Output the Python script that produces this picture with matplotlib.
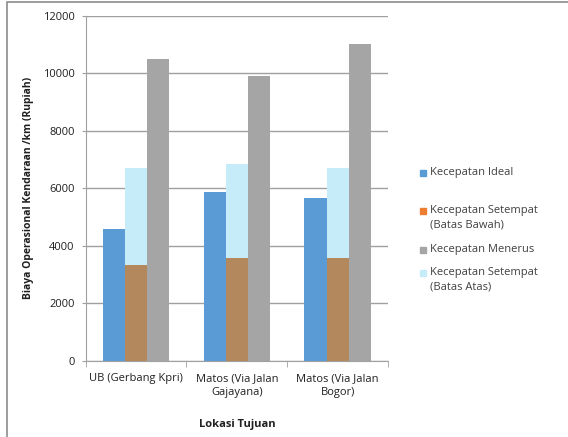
import matplotlib.pyplot as plt
from matplotlib.patches import Rectangle
import numpy as np

plt.rcParams['font.family'] = ['Open Sans', 'DejaVu Sans']

# Data
lokasi = ["UB (Gerbang Kpri)", "Matos (Via Jalan\nGajayana)", "Matos (Via Jalan\nBogor)"]
ideal = [4570, 5850, 5670]
batas_bawah = [3320, 3580, 3580]
menerus = [10480, 9900, 11000]
batas_atas = [6690, 6830, 6700]

BLUE = "#5B9BD5"
ORANGE = "#ED7D31"
BROWN = "#B4885D"
GRAY = "#A5A5A5"
LBLUE = "#C6ECFA"
TXT = "#404040"
GRID = "#A0A0A0"

fig = plt.figure(figsize=(5.68, 4.37), dpi=100)
ax = fig.add_axes([0.151, 0.175, 0.532, 0.789])

x = np.arange(len(lokasi))
w = 0.22
ax.bar(x - w, ideal, w, color=BLUE, zorder=3)
ax.bar(x, batas_atas, w, color=LBLUE, zorder=3)
ax.bar(x, batas_bawah, w, color=BROWN, zorder=4)
ax.bar(x + w, menerus, w, color=GRAY, zorder=3)

ax.set_xlim(-0.5, 2.5)
ax.set_ylim(0, 12000)
ax.set_yticks(range(0, 12001, 2000))
ax.yaxis.grid(True, color=GRID, linewidth=1.0, zorder=0)
ax.set_axisbelow(True)

ax.set_xticks(x)
ax.set_xticklabels(lokasi, fontsize=8, color="#202020", linespacing=1.35)
ax.set_xticks([-0.5, 0.5, 1.5, 2.5], minor=True)
ax.tick_params(axis="x", which="major", length=0, pad=9)
ax.tick_params(axis="x", which="minor", length=4, color=GRID)
ax.tick_params(axis="y", length=3, color=GRID, labelsize=8, labelcolor="#202020", pad=5)

for s in ["top", "right"]:
    ax.spines[s].set_visible(False)
for s in ["left", "bottom"]:
    ax.spines[s].set_color(GRID)

ax.set_ylabel("Biaya Operasional Kendaraan /km (Rupiah)", fontsize=7.5,
              fontweight="bold", color="#202020", labelpad=6)
ax.set_xlabel("Lokasi Tujuan", fontsize=8, fontweight="bold",
              color="#202020", labelpad=15)

# legend, laid out like the Excel one (uneven spacing)
leg_colors = [BLUE, ORANGE, GRAY, LBLUE]
leg_labels = ["Kecepatan Ideal", "Kecepatan Setempat\n(Batas Bawah)",
              "Kecepatan Menerus", "Kecepatan Setempat\n(Batas Atas)"]
leg_y = [173, 211, 250, 273]  # pixel rows of first text line
for c, lab, py in zip(leg_colors, leg_labels, leg_y):
    yf = 1 - py / 437
    fig.add_artist(Rectangle((420 / 568, yf - 3 / 437), 6 / 568, 6 / 437,
                             transform=fig.transFigure, color=c))
    fig.text(430 / 568, yf + 6.5 / 437, lab, fontsize=8, color=TXT,
             va="top", ha="left", linespacing=1.45)

# chart border
fig.add_artist(Rectangle((0.013, -0.01), 1.1, 1.005, transform=fig.transFigure,
                         fill=False, edgecolor="#8C8C8C", linewidth=1.2))

fig.savefig("out.png", dpi=100)
